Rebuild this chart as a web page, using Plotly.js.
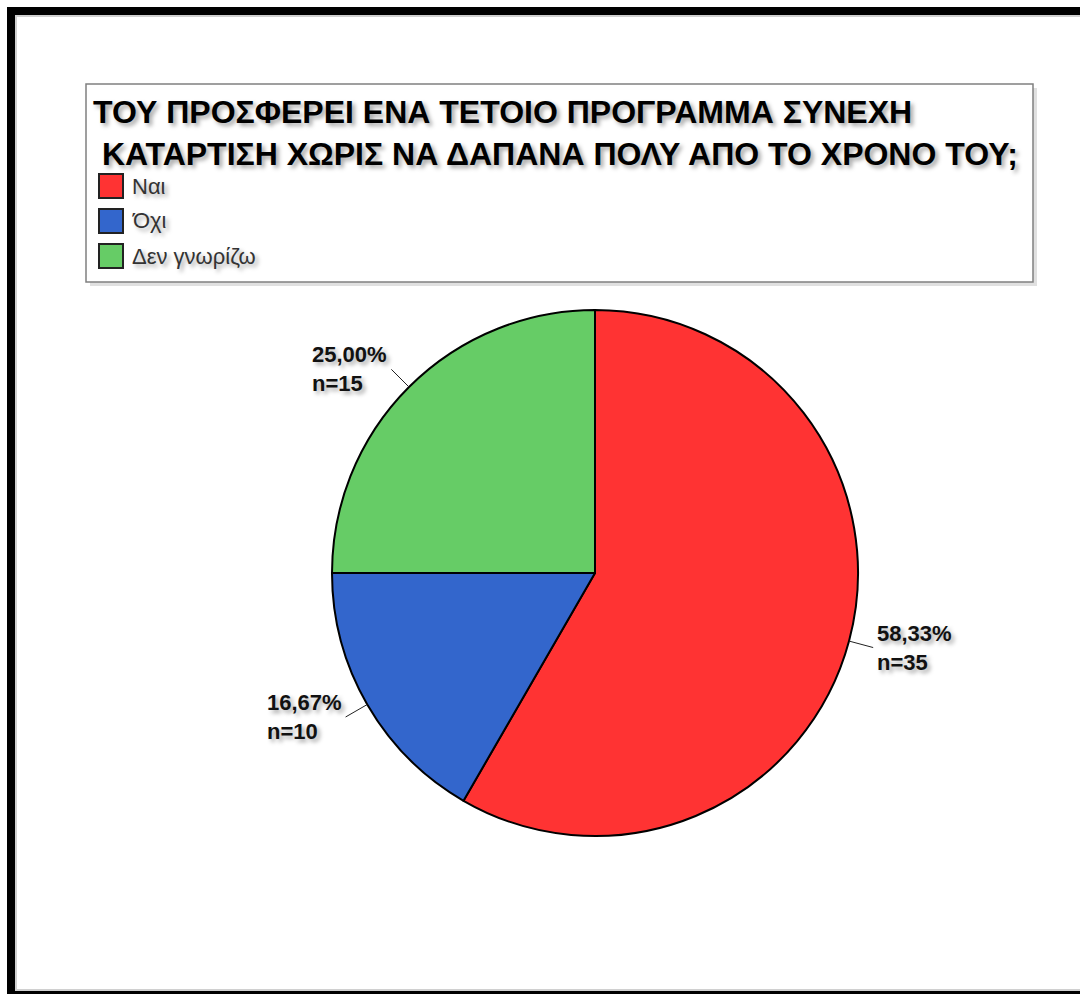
<!DOCTYPE html>
<html>
<head>
<meta charset="utf-8">
<script src="https://cdn.plot.ly/plotly-3.0.1.min.js"></script>
<style>
  html, body { margin: 0; padding: 0; background: #fff; }
  #chart { width: 1080px; height: 994px; }
  .annotation-text { text-shadow: 3px 3px 4px rgba(0,0,0,0.35); }
</style>
</head>
<body>
<div id="chart"></div>
<script>
// ---- data ----
const categories = ["Ναι", "Όχι", "Δεν γνωρίζω"];
const counts = [35, 10, 15];
const colors = ["#FF3333", "#3366CC", "#66CC66"];
const titleLines = [
  "ΤΟΥ ΠΡΟΣΦΕΡΕΙ ΕΝΑ ΤΕΤΟΙΟ ΠΡΟΓΡΑΜΜΑ ΣΥΝΕΧΗ",
  "\u00a0ΚΑΤΑΡΤΙΣΗ ΧΩΡΙΣ ΝΑ ΔΑΠΑΝΑ ΠΟΛΥ ΑΠΟ ΤΟ ΧΡΟΝΟ ΤΟΥ;"
];

// ---- layout geometry (pixels) ----
const W = 1080, H = 994;
const cx = 595, cy = 573, R = 263;
const px = v => v / W;
const py = v => 1 - v / H;
const FONT = "Liberation Sans, Arial, sans-serif";

const total = counts.reduce((a, b) => a + b, 0);
const fmtPct = v => (v / total * 100).toFixed(2).replace('.', ',') + '%';

const shapes = [];
const annotations = [];

// outer frame
shapes.push({type: 'rect', xref: 'paper', yref: 'paper',
  x0: px(11), x1: px(1200), y0: py(11), y1: py(995),
  line: {color: '#000', width: 8}, fillcolor: 'rgba(0,0,0,0)'});
shapes.push({type: 'rect', xref: 'paper', yref: 'paper',
  x0: px(16), x1: px(1200), y0: py(16), y1: py(990),
  line: {color: '#d0d0d0', width: 2}, fillcolor: 'rgba(0,0,0,0)'});

// legend box (shadow + box)
shapes.push({type: 'rect', xref: 'paper', yref: 'paper',
  x0: px(90), x1: px(1037), y0: py(88), y1: py(286),
  line: {width: 0}, fillcolor: 'rgba(0,0,0,0.12)'});
shapes.push({type: 'rect', xref: 'paper', yref: 'paper',
  x0: px(86), x1: px(1033), y0: py(84), y1: py(282),
  line: {color: '#808080', width: 1.5}, fillcolor: '#ffffff'});

// legend title
annotations.push({xref: 'paper', yref: 'paper', x: px(91), y: py(92),
  xanchor: 'left', yanchor: 'top', align: 'left', showarrow: false,
  text: titleLines.join('<br>'),
  font: {family: FONT, size: 32, color: '#000', weight: 'bold'}});

// legend entries
categories.forEach((c, i) => {
  const top = 174 + i * 35;
  shapes.push({type: 'rect', xref: 'paper', yref: 'paper',
    x0: px(99), x1: px(123), y0: py(top), y1: py(top + 24),
    line: {color: '#222', width: 2}, fillcolor: colors[i]});
  annotations.push({xref: 'paper', yref: 'paper', x: px(130), y: py(top + 12),
    xanchor: 'left', yanchor: 'middle', showarrow: false, text: c,
    font: {family: FONT, size: 22, color: '#333'}});
});

// slice labels with leader lines
let cum = 0;
counts.forEach((v, i) => {
  const mid = (cum + v / 2) / total * 2 * Math.PI;
  cum += v;
  const sx = Math.sin(mid), sy = -Math.cos(mid);
  const P = [cx + R * sx, cy + R * sy];
  const Q = [cx + (R + 25) * sx, cy + (R + 25) * sy];
  shapes.push({type: 'line', xref: 'paper', yref: 'paper',
    x0: px(P[0]), y0: py(P[1]), x1: px(Q[0]), y1: py(Q[1]),
    line: {color: '#222', width: 1}});
  const right = sx > 0;
  annotations.push({xref: 'paper', yref: 'paper',
    x: px(Q[0] + (right ? 2 : -2)), y: py(Q[1]),
    xanchor: right ? 'left' : 'right', yanchor: 'middle', align: 'left',
    showarrow: false,
    text: fmtPct(v) + '<br>n=' + v,
    font: {family: FONT, size: 22, color: '#111', weight: 'bold'}});
});

const trace = {
  type: 'pie',
  labels: categories,
  values: counts,
  sort: false,
  direction: 'clockwise',
  rotation: 0,
  textinfo: 'none',
  textposition: 'none',
  hoverinfo: 'label+value+percent',
  marker: {colors: colors, line: {color: '#000', width: 2}},
  domain: {x: [px(cx - R), px(cx + R)], y: [py(cy + R), py(cy - R)]},
  showlegend: false
};

const layout = {
  width: W, height: H,
  margin: {l: 0, r: 0, t: 0, b: 0, pad: 0},
  paper_bgcolor: '#fff',
  showlegend: false,
  shapes: shapes,
  annotations: annotations
};

Plotly.newPlot('chart', [trace], layout, {displayModeBar: false, staticPlot: true});
</script>
</body>
</html>
